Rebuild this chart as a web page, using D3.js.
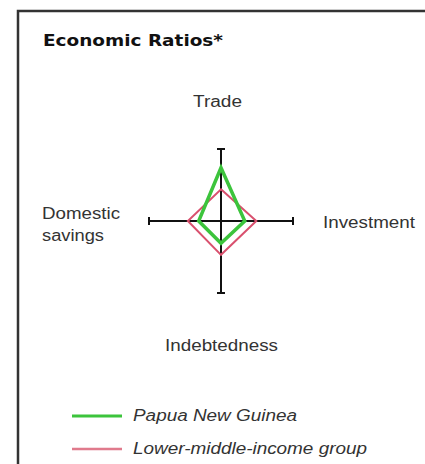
<!DOCTYPE html>
<html>
<head>
<meta charset="utf-8">
<script src="https://cdn.jsdelivr.net/npm/d3@7"></script>
<style>
  body { margin: 0; background: #fff; }
  text { font-family: "Liberation Sans", Arial, sans-serif; fill: #333; }
</style>
</head>
<body>
<svg id="chart" width="425" height="464"></svg>
<script>
// diamond data, index relative to axis length (1 = end of axis)
var axes = ['Trade', 'Investment', 'Indebtedness', 'Domestic savings'];
var png = [0.74, 0.33, 0.31, 0.31];
var lmi = [0.44, 0.49, 0.47, 0.46];
var seriesNames = ['Papua New Guinea', 'Lower-middle-income group'];
var seriesColors = ['#3cc43c', '#d9506e'];

var svg = d3.select('#chart');
var cx = 221, cy = 221;

var r = d3.scaleLinear().domain([0, 1]).range([0, 72]);
var angle = d3.scalePoint().domain(axes).range([0, 2 * Math.PI * 3 / 4]);

// frame
svg.append('path')
  .attr('d', 'M18,464 L18,11 L425,11')
  .attr('fill', 'none')
  .attr('stroke', '#333')
  .attr('stroke-width', 2.5);

svg.append('text')
  .attr('x', 43).attr('y', 46)
  .attr('textLength', 180).attr('lengthAdjust', 'spacingAndGlyphs')
  .style('font-family', '"DejaVu Sans", sans-serif')
  .style('font-weight', 'bold')
  .style('font-size', '15px')
  .style('fill', '#111')
  .text('Economic Ratios*');

var g = svg.append('g').attr('transform', 'translate(' + cx + ',' + cy + ')');

// axes with end caps
axes.forEach(function(a) {
  var t = angle(a);
  var x = Math.sin(t) * r(1), y = -Math.cos(t) * r(1);
  g.append('line')
    .attr('x1', 0).attr('y1', 0).attr('x2', x).attr('y2', y)
    .attr('stroke', '#111').attr('stroke-width', 2);
  var px = Math.cos(t) * 4, py = Math.sin(t) * 4;
  g.append('line')
    .attr('x1', x - px).attr('y1', y - py).attr('x2', x + px).attr('y2', y + py)
    .attr('stroke', '#111').attr('stroke-width', 2);
});

var line = d3.lineRadial()
  .angle(function(d, i) { return angle(axes[i]); })
  .radius(function(d) { return r(d); })
  .curve(d3.curveLinearClosed);

g.append('path')
  .attr('d', line(lmi))
  .attr('fill', 'none')
  .attr('stroke', seriesColors[1])
  .attr('stroke-width', 2);

g.append('path')
  .attr('d', line(png))
  .attr('fill', 'none')
  .attr('stroke', seriesColors[0])
  .attr('stroke-width', 3.5)
  .attr('stroke-linejoin', 'miter');

// axis labels
var labels = [
  {t: 'Trade', x: 193, y: 107, w: 49},
  {t: 'Investment', x: 323, y: 228, w: 92},
  {t: 'Indebtedness', x: 165, y: 351, w: 113},
  {t: 'Domestic', x: 42, y: 219, w: 78},
  {t: 'savings', x: 42, y: 241, w: 62}
];
svg.selectAll('.lab')
  .data(labels)
  .enter().append('text')
  .attr('class', 'lab')
  .attr('x', function(d) { return d.x; })
  .attr('y', function(d) { return d.y; })
  .attr('textLength', function(d) { return d.w; })
  .attr('lengthAdjust', 'spacingAndGlyphs')
  .style('font-size', '16px')
  .text(function(d) { return d.t; });

// legend
var legY = [416, 449];
var legW = [164, 234];
seriesNames.forEach(function(n, i) {
  svg.append('line')
    .attr('x1', 72).attr('x2', 122)
    .attr('y1', legY[i]).attr('y2', legY[i])
    .attr('stroke', i === 0 ? seriesColors[0] : '#e07a8c')
    .attr('stroke-width', i === 0 ? 3 : 2.5);
  svg.append('text')
    .attr('x', 133).attr('y', legY[i] + 5)
    .attr('textLength', legW[i]).attr('lengthAdjust', 'spacingAndGlyphs')
    .style('font-size', '16px')
    .style('font-style', 'italic')
    .text(n);
});
</script>
</body>
</html>
